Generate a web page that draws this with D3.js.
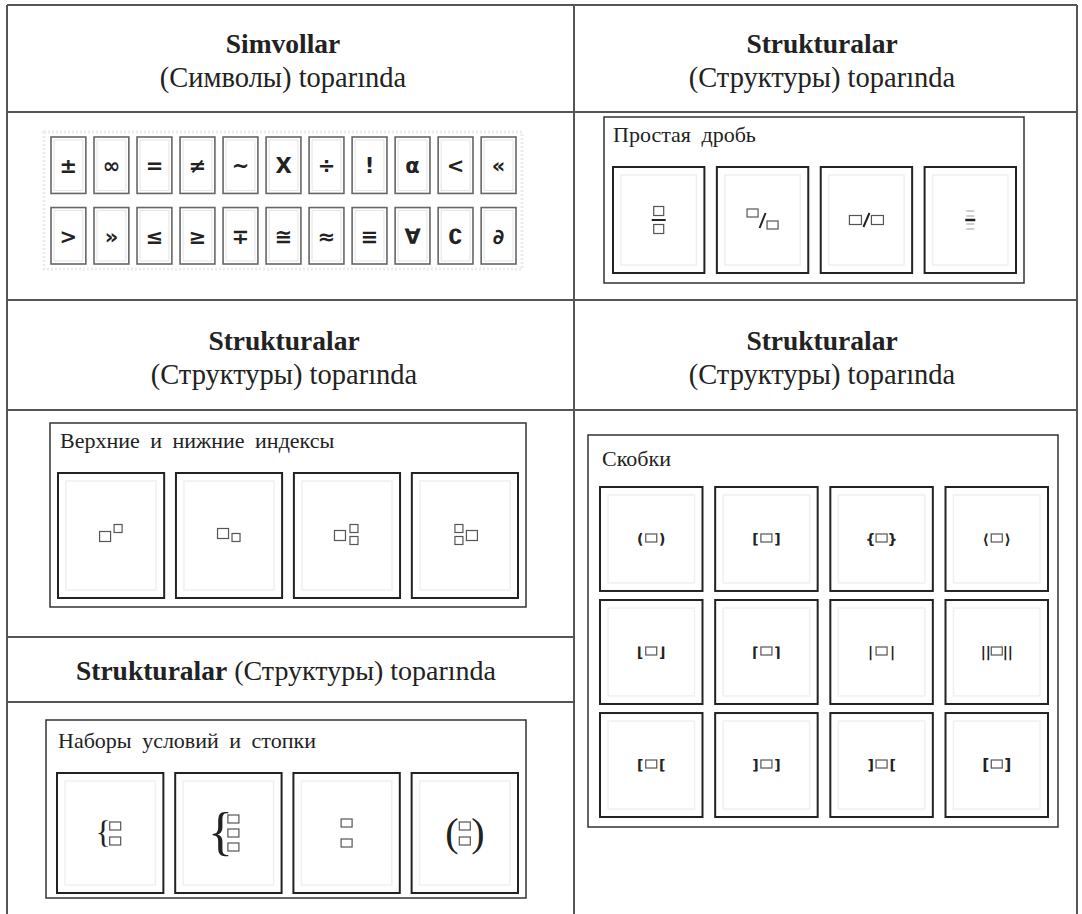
<!DOCTYPE html>
<html>
<head>
<meta charset="utf-8">
<script src="https://cdn.jsdelivr.net/npm/d3@7"></script>
<style>
  html, body { margin: 0; padding: 0; background: #fff; }
  svg { display: block; }
</style>
</head>
<body>
<svg id="chart" width="1082" height="914"></svg>
<script>
// ---------------- data ----------------
const headerTitles = ["Simvollar", "Strukturalar", "Strukturalar", "Strukturalar", "Strukturalar"];
const headerSubtitles = ["(Символы) toparında", "(Структуры) toparında", "(Структуры) toparında", "(Структуры) toparında", " (Структуры) toparında"];
const panelTitles = ["Простая дробь", "Верхние и нижние индексы", "Наборы условий и стопки", "Скобки"];
const symbolsRow1 = ["±", "∞", "=", "≠", "~", "X", "÷", "!", "α", "<", "«"];
const symbolsRow2 = [">", "»", "≤", "≥", "∓", "≅", "≈", "≡", "∀", "∁", "∂"];
const fractionTypes = ["stacked", "skewed", "linear", "small"];
const scriptTypes = ["sup", "sub", "subsup", "leftsubsup"];
const stackTypes = ["brace2", "brace3", "stack2", "paren2"];
const bracketLeft  = ["(", "[", "{", "⟨", "⌊", "⌈", "|", "||", "[", "]", "]", "["];
const bracketRight = [")", "]", "}", "⟩", "⌋", "⌉", "|", "||", "[", "]", "[", "]"];

// ---------------- drawing ----------------
const svg = d3.select("#chart");
svg.append("rect").attr("width", 1082).attr("height", 914).attr("fill", "#fff");

const LINE = "#555";
const TXT = "#222";
const SERIF = "'Liberation Serif', 'Times New Roman', serif";
const SANS = "'DejaVu Sans', 'Liberation Sans', Arial, sans-serif";

// table grid
const grid = svg.append("g").attr("stroke", LINE).attr("stroke-width", 2);
const L = 7, R = 1077, M = 574, T = 5, B = 914;
[[L, T, L, B], [R, T, R, B], [M, T, M, B],
 [L, T, R, T], [L, 112, R, 112], [L, 300, R, 300], [L, 410, R, 410],
 [L, 637, M, 637], [L, 702, M, 702]].forEach(d =>
  grid.append("line").attr("x1", d[0]).attr("y1", d[1]).attr("x2", d[2]).attr("y2", d[3]));

// headers
const headerPos = [
  {x: 283, y1: 53, y2: 87},
  {x: 822, y1: 53, y2: 87},
  {x: 284, y1: 350, y2: 384},
  {x: 822, y1: 350, y2: 384}
];
headerPos.forEach((p, i) => {
  svg.append("text").attr("x", p.x).attr("y", p.y1).attr("text-anchor", "middle")
    .attr("font-family", SERIF).attr("font-weight", "bold").attr("font-size", 27.5).attr("fill", TXT)
    .text(headerTitles[i]);
  svg.append("text").attr("x", p.x).attr("y", p.y2).attr("text-anchor", "middle")
    .attr("font-family", SERIF).attr("font-size", 28.5).attr("fill", TXT)
    .text(headerSubtitles[i]);
});
const inl = svg.append("text").attr("x", 286).attr("y", 680).attr("text-anchor", "middle")
  .attr("font-family", SERIF).attr("font-size", 28).attr("fill", TXT);
inl.append("tspan").attr("font-weight", "bold").attr("font-size", 27.5).text(headerTitles[4]);
inl.append("tspan").text(headerSubtitles[4]);

// ---------- symbol toolbar ----------
const symG = svg.append("g");
symG.append("rect").attr("x", 44).attr("y", 132).attr("width", 478).attr("height", 137)
  .attr("fill", "none").attr("stroke", "#ececec").attr("stroke-width", 3).attr("stroke-dasharray", "2,2");
const sx = d3.scaleBand().domain(d3.range(symbolsRow1.length)).range([51, 516]).paddingInner(0.19);
const sy = d3.scaleBand().domain([0, 1]).range([137, 264]).paddingInner(0.2);
[symbolsRow1, symbolsRow2].forEach((row, r) => {
  row.forEach((s, i) => {
    const x = sx(i), y = sy(r), w = sx.bandwidth(), h = sy.bandwidth();
    symG.append("rect").attr("x", x).attr("y", y).attr("width", w).attr("height", h)
      .attr("fill", "#fff").attr("stroke", "#666").attr("stroke-width", 1.6);
    symG.append("rect").attr("x", x + 3).attr("y", y + 3).attr("width", w - 6).attr("height", h - 6)
      .attr("fill", "none").attr("stroke", "#e4e4e4").attr("stroke-width", 1);
    symG.append("text").attr("x", x + w / 2).attr("y", y + h / 2 + 8).attr("text-anchor", "middle")
      .attr("font-family", SANS).attr("font-weight", "bold").attr("font-size", 21).attr("fill", "#222")
      .text(s);
  });
});

// ---------- helpers ----------
function panel(x, y, w, h, title, tx, ty) {
  const g = svg.append("g");
  g.append("rect").attr("x", x).attr("y", y).attr("width", w).attr("height", h)
    .attr("fill", "#fff").attr("stroke", "#333").attr("stroke-width", 1.5);
  g.append("text").attr("x", tx).attr("y", ty).attr("font-family", SERIF).attr("font-size", 22)
    .attr("word-spacing", 5).attr("fill", TXT).text(title);
  return g;
}
function button(g, x, y, w, h) {
  g.append("rect").attr("x", x).attr("y", y).attr("width", w).attr("height", h)
    .attr("fill", "#fff").attr("stroke", "#222").attr("stroke-width", 2);
  g.append("rect").attr("x", x + 8).attr("y", y + 8).attr("width", w - 16).attr("height", h - 16)
    .attr("fill", "none").attr("stroke", "#f0f0f0").attr("stroke-width", 1.5);
}
function box(g, cx, cy, w = 11, h = 9) {
  g.append("rect").attr("x", cx - w / 2).attr("y", cy - h / 2).attr("width", w).attr("height", h)
    .attr("fill", "#fff").attr("stroke", "#555").attr("stroke-width", 1.2);
}

// ---------- Простая дробь ----------
{
  const g = panel(604, 117, 420, 166, panelTitles[0], 613, 142);
  const bx = d3.scaleBand().domain(fractionTypes).range([613, 1016]).paddingInner(0.12);
  const y0 = 167, h = 106;
  fractionTypes.forEach(t => {
    const x = bx(t), w = bx.bandwidth();
    button(g, x, y0, w, h);
    const cx = x + w / 2, cy = y0 + h / 2;
    if (t === "stacked") {
      box(g, cx, cy - 9, 10, 9);
      g.append("line").attr("x1", cx - 7).attr("x2", cx + 7).attr("y1", cy).attr("y2", cy)
        .attr("stroke", "#222").attr("stroke-width", 2);
      box(g, cx, cy + 9, 10, 9);
    } else if (t === "skewed") {
      box(g, cx - 10, cy - 7, 11, 8);
      g.append("line").attr("x1", cx + 3).attr("x2", cx - 3).attr("y1", cy - 7).attr("y2", cy + 8)
        .attr("stroke", "#222").attr("stroke-width", 2);
      box(g, cx + 10, cy + 5, 11, 8);
    } else if (t === "linear") {
      box(g, cx - 11, cy, 12, 9);
      g.append("line").attr("x1", cx + 3).attr("x2", cx - 3).attr("y1", cy - 7).attr("y2", cy + 7)
        .attr("stroke", "#222").attr("stroke-width", 2);
      box(g, cx + 11, cy, 12, 9);
    } else {
      [-9, -4, 4, 9].forEach(d => g.append("line").attr("x1", cx - 4).attr("x2", cx + 4)
        .attr("y1", cy + d).attr("y2", cy + d).attr("stroke", "#999").attr("stroke-width", 1));
      g.append("line").attr("x1", cx - 5).attr("x2", cx + 5).attr("y1", cy).attr("y2", cy)
        .attr("stroke", "#222").attr("stroke-width", 2.5);
    }
  });
}

// ---------- Верхние и нижние индексы ----------
{
  const g = panel(50, 423, 476, 184, panelTitles[1], 60, 448);
  const bx = d3.scaleBand().domain(scriptTypes).range([58, 518]).paddingInner(0.1);
  const y0 = 473, h = 125;
  scriptTypes.forEach(t => {
    const x = bx(t), w = bx.bandwidth();
    button(g, x, y0, w, h);
    const cx = x + w / 2, cy = y0 + h / 2 - 1;
    if (t === "sup") {
      box(g, cx - 6, cy + 2, 11, 10); box(g, cx + 7, cy - 6, 8, 8);
    } else if (t === "sub") {
      box(g, cx - 6, cy - 1, 11, 10); box(g, cx + 7, cy + 3, 8, 8);
    } else if (t === "subsup") {
      box(g, cx - 7, cy + 1, 11, 10); box(g, cx + 7, cy - 6, 8, 8); box(g, cx + 7, cy + 6, 8, 8);
    } else {
      box(g, cx - 6, cy - 6, 8, 8); box(g, cx - 6, cy + 6, 8, 8); box(g, cx + 7, cy + 1, 11, 10);
    }
  });
}

// ---------- Наборы условий и стопки ----------
{
  const g = panel(46, 720, 480, 178, panelTitles[2], 58, 748);
  const bx = d3.scaleBand().domain(stackTypes).range([57, 518]).paddingInner(0.1);
  const y0 = 773, h = 120;
  stackTypes.forEach(t => {
    const x = bx(t), w = bx.bandwidth();
    button(g, x, y0, w, h);
    const cx = x + w / 2, cy = y0 + h / 2;
    if (t === "brace2") {
      g.append("text").attr("x", cx - 7).attr("y", cy + 10).attr("text-anchor", "middle")
        .attr("font-family", SERIF).attr("font-size", 32).attr("fill", "#222").text("{");
      box(g, cx + 5, cy - 7, 11, 8); box(g, cx + 5, cy + 8, 11, 8);
    } else if (t === "brace3") {
      g.append("text").attr("x", cx - 8).attr("y", cy + 16).attr("text-anchor", "middle")
        .attr("font-family", SERIF).attr("font-size", 52).attr("font-weight", "300").attr("fill", "#222").text("{");
      box(g, cx + 5, cy - 14, 11, 8); box(g, cx + 5, cy, 11, 8); box(g, cx + 5, cy + 14, 11, 8);
    } else if (t === "stack2") {
      box(g, cx, cy - 10, 11, 8); box(g, cx, cy + 10, 11, 8);
    } else {
      g.append("text").attr("x", cx - 13).attr("y", cy + 13).attr("text-anchor", "middle")
        .attr("font-family", SERIF).attr("font-size", 40).attr("fill", "#222").text("(");
      g.append("text").attr("x", cx + 13).attr("y", cy + 13).attr("text-anchor", "middle")
        .attr("font-family", SERIF).attr("font-size", 40).attr("fill", "#222").text(")");
      box(g, cx, cy - 7, 11, 8); box(g, cx, cy + 8, 11, 8);
    }
  });
}

// ---------- Скобки ----------
{
  const g = panel(588, 435, 470, 392, panelTitles[3], 602, 466);
  const cols = d3.range(4), rows = d3.range(3);
  const bx = d3.scaleBand().domain(cols).range([600, 1048]).paddingInner(0.11);
  const by = d3.scaleBand().domain(rows).range([487, 817]).paddingInner(0.08);
  bracketLeft.forEach((lb, i) => {
    const c = i % 4, r = Math.floor(i / 4);
    const x = bx(c), y = by(r), w = bx.bandwidth(), h = by.bandwidth();
    button(g, x, y, w, h);
    const cx = x + w / 2, cy = y + h / 2;
    box(g, cx, cy - 1, 11, 8);
    const heavy = i === 11 ? 15.5 : 14;
    const drawGlyph = (str, side) => {
      // each character placed separately so multi-bar glyphs stay symmetric
      const chars = Array.from(str);
      chars.forEach((ch, k) => {
        const off = (chars.length - 1) * 2.5;
        const gx = cx + side * 11 + (k * 5 - off) * 1;
        g.append("text").attr("x", gx).attr("y", cy + 5).attr("text-anchor", "middle")
          .attr("font-family", SANS).attr("font-weight", "bold").attr("font-size", heavy)
          .attr("fill", "#222").text(ch);
      });
    };
    drawGlyph(lb, -1);
    drawGlyph(bracketRight[i], 1);
  });
}
</script>
</body>
</html>
